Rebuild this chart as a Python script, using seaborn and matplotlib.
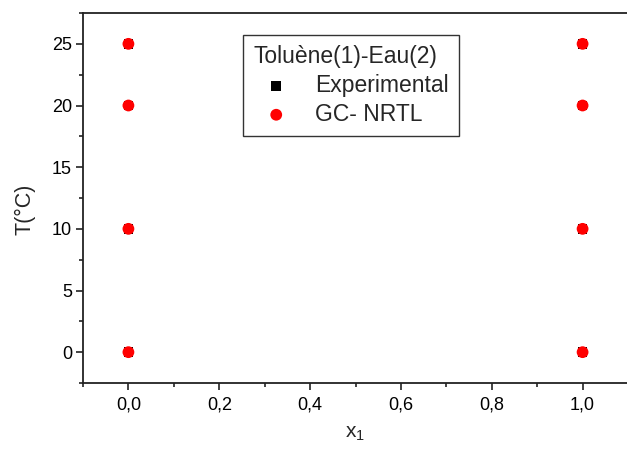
import matplotlib
matplotlib.use("Agg")
import matplotlib.pyplot as plt
from matplotlib.ticker import MultipleLocator, FuncFormatter
import seaborn as sns
import pandas as pd

# Liquid-liquid equilibrium data, toluene(1) - water(2)
x1_exp = [0.0, 0.0, 0.0, 0.0, 1.0, 1.0, 1.0, 1.0]
T_exp = [0, 10, 20, 25, 0, 10, 20, 25]
x1_nrtl = [0.0, 0.0, 0.0, 0.0, 1.0, 1.0, 1.0, 1.0]
T_nrtl = [0, 10, 20, 25, 0, 10, 20, 25]
series_names = ["Experimental", "GC- NRTL"]
legend_title = "Toluène(1)-Eau(2)"

sns.set_style("ticks")
plt.rcParams["font.family"] = ["Liberation Sans", "DejaVu Sans"]
plt.rcParams["mathtext.fontset"] = "custom"
plt.rcParams["mathtext.rm"] = "Liberation Sans"
plt.rcParams["mathtext.it"] = "Liberation Sans"

df_exp = pd.DataFrame({"x1": x1_exp, "T": T_exp})
df_nrtl = pd.DataFrame({"x1": x1_nrtl, "T": T_nrtl})

fig = plt.figure(figsize=(6.27, 4.53), dpi=100)
ax = fig.add_axes([83 / 627, 1 - 383 / 453, 545 / 627, (383 - 13) / 453])

sns.scatterplot(data=df_exp, x="x1", y="T", ax=ax, marker="s", s=48,
                color="black", edgecolor="none", label=series_names[0])
sns.scatterplot(data=df_nrtl, x="x1", y="T", ax=ax, marker="o", s=72,
                color="red", edgecolor="none", label=series_names[1])

ax.set_xlim(-0.1, 1.1)
ax.set_ylim(-2.5, 27.5)
ax.xaxis.set_major_locator(MultipleLocator(0.2))
ax.xaxis.set_minor_locator(MultipleLocator(0.1))
ax.yaxis.set_major_locator(MultipleLocator(5))
ax.yaxis.set_minor_locator(MultipleLocator(2.5))
ax.xaxis.set_major_formatter(FuncFormatter(lambda v, p: f"{v:.1f}".replace(".", ",")))
ax.yaxis.set_major_formatter(FuncFormatter(lambda v, p: f"{v:.0f}"))

for side in ["left", "bottom", "top", "right"]:
    ax.spines[side].set_visible(True)
    ax.spines[side].set_linewidth(1.3)
    ax.spines[side].set_color("#222222")

ax.tick_params(axis="both", which="major", direction="out", length=5,
               width=1.2, labelsize=13, colors="#222222", labelcolor="black")
ax.tick_params(axis="both", which="minor", direction="out", length=3, width=1.2,
               colors="#222222")
ax.tick_params(axis="x", which="major", pad=5)
ax.tick_params(axis="y", which="major", pad=3)

ax.set_xlabel("x$_1$", fontsize=15)
ax.set_ylabel("T(°C)", fontsize=15.5)
ax.xaxis.set_label_coords(0.5, -(424 - 383) / 370)
ax.yaxis.set_label_coords((36 - 83) / 545, (383 - 209) / 370)

leg = ax.legend(title=legend_title, loc="upper left",
                bbox_to_anchor=((243 - 83) / 545, (383 - 35) / 370),
                fontsize=16.5, title_fontsize=16.5, frameon=True, fancybox=False,
                edgecolor="#333333", framealpha=1, borderpad=0.45,
                labelspacing=0.25, handletextpad=0.7, handlelength=2.0,
                borderaxespad=0, alignment="left", markerscale=1.0)
leg.get_frame().set_linewidth(1.0)

fig.savefig("out.png", dpi=100)
